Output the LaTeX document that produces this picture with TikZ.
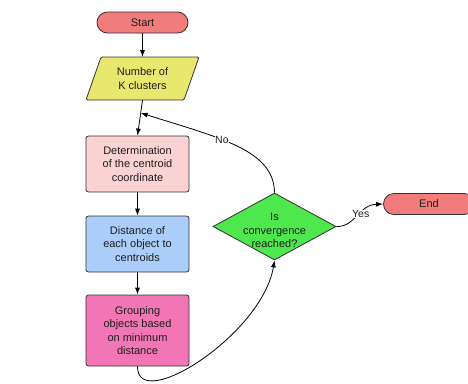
\documentclass[tikz,border=0pt]{standalone}
\usepackage{fontspec}
\setmainfont{Liberation Sans}
\usetikzlibrary{shapes.geometric,arrows.meta,calc}
\definecolor{termfill}{RGB}{240,124,124}
\definecolor{datafill}{RGB}{232,232,110}
\definecolor{detfill}{RGB}{250,210,210}
\definecolor{distfill}{RGB}{170,205,250}
\definecolor{grpfill}{RGB}{242,118,182}
\definecolor{decfill}{RGB}{78,232,78}
\definecolor{edge}{RGB}{50,50,50}
\definecolor{txt}{RGB}{30,30,30}
\begin{document}
\begin{tikzpicture}[x=1pt,y=-1pt,
  font=\fontsize{11}{13.3}\selectfont,
  every node/.style={text=txt},
  term/.style={draw=edge, line width=0.8pt, fill=termfill, rounded corners=10.5pt,
    minimum width=91pt, minimum height=21pt, inner sep=0pt},
  procbox/.style={draw=edge, line width=0.8pt, rounded corners=2.5pt,
    minimum width=103pt, align=center, inner sep=0pt},
  decision/.style={draw=edge, line width=0.8pt, fill=decfill, diamond, aspect=1.83,
    minimum width=123pt, minimum height=67pt, inner sep=0pt, align=center},
  flow/.style={draw=black, line width=0.8pt, -{Latex[length=7pt,width=5pt]}},
  lbl/.style={fill=white, inner sep=0.5pt, font=\fontsize{10.5}{12}\selectfont}]
\useasboundingbox (0,0) rectangle (468,383);

\node[term] (start) at (142.5,22.5) {Start};

\fill[datafill] (86,100) -- (101,57) -- (199,57) -- (184,100) -- cycle;
\draw[edge, line width=0.8pt, rounded corners=1.5pt] (86,100) -- (101,57) -- (199,57) -- (184,100) -- cycle;
\node[minimum width=98pt, minimum height=43pt, inner sep=0pt, align=center] (k) at (142.5,78.5) {Number of\\K clusters};

\node[procbox, fill=detfill, minimum height=56pt] (det) at (137.5,164) {Determination\\of the centroid\\coordinate};
\node[procbox, fill=distfill, minimum height=56pt] (dist) at (137.5,244) {Distance of\\each object to\\centroids};
\node[procbox, fill=grpfill, minimum height=71pt] (grp) at (137.5,330.5) {Grouping\\objects based\\on minimum\\distance};

\node[decision] (dec) at (274.5,226.5) {};
\node[align=center] (dectext) at (274.5,230.5) {Is\\convergence\\reached?};

\node[term] (end) at (429,204) {End};

\coordinate (m) at ($(k.south)!0.36!(det.north)$);

\draw[flow] (start.south) -- (k.south |- 57,57);
\draw[flow] (k.south) -- (det.north);
\draw[flow] (det.south) -- (dist.north);
\draw[flow] (dist.south) -- (grp.north);
\draw[flow] (grp.south) .. controls (137,414) and (262,335) .. (dec.south);
\draw[flow] (dec.north) .. controls (274,150) and (220,138) .. node[lbl, pos=0.6] {No} (m);
\draw[flow] (dec.east) .. controls (356,227) and (358,205) .. node[lbl, pos=0.5, xshift=3pt, yshift=2pt] {Yes} (end.west);
\end{tikzpicture}
\end{document}
